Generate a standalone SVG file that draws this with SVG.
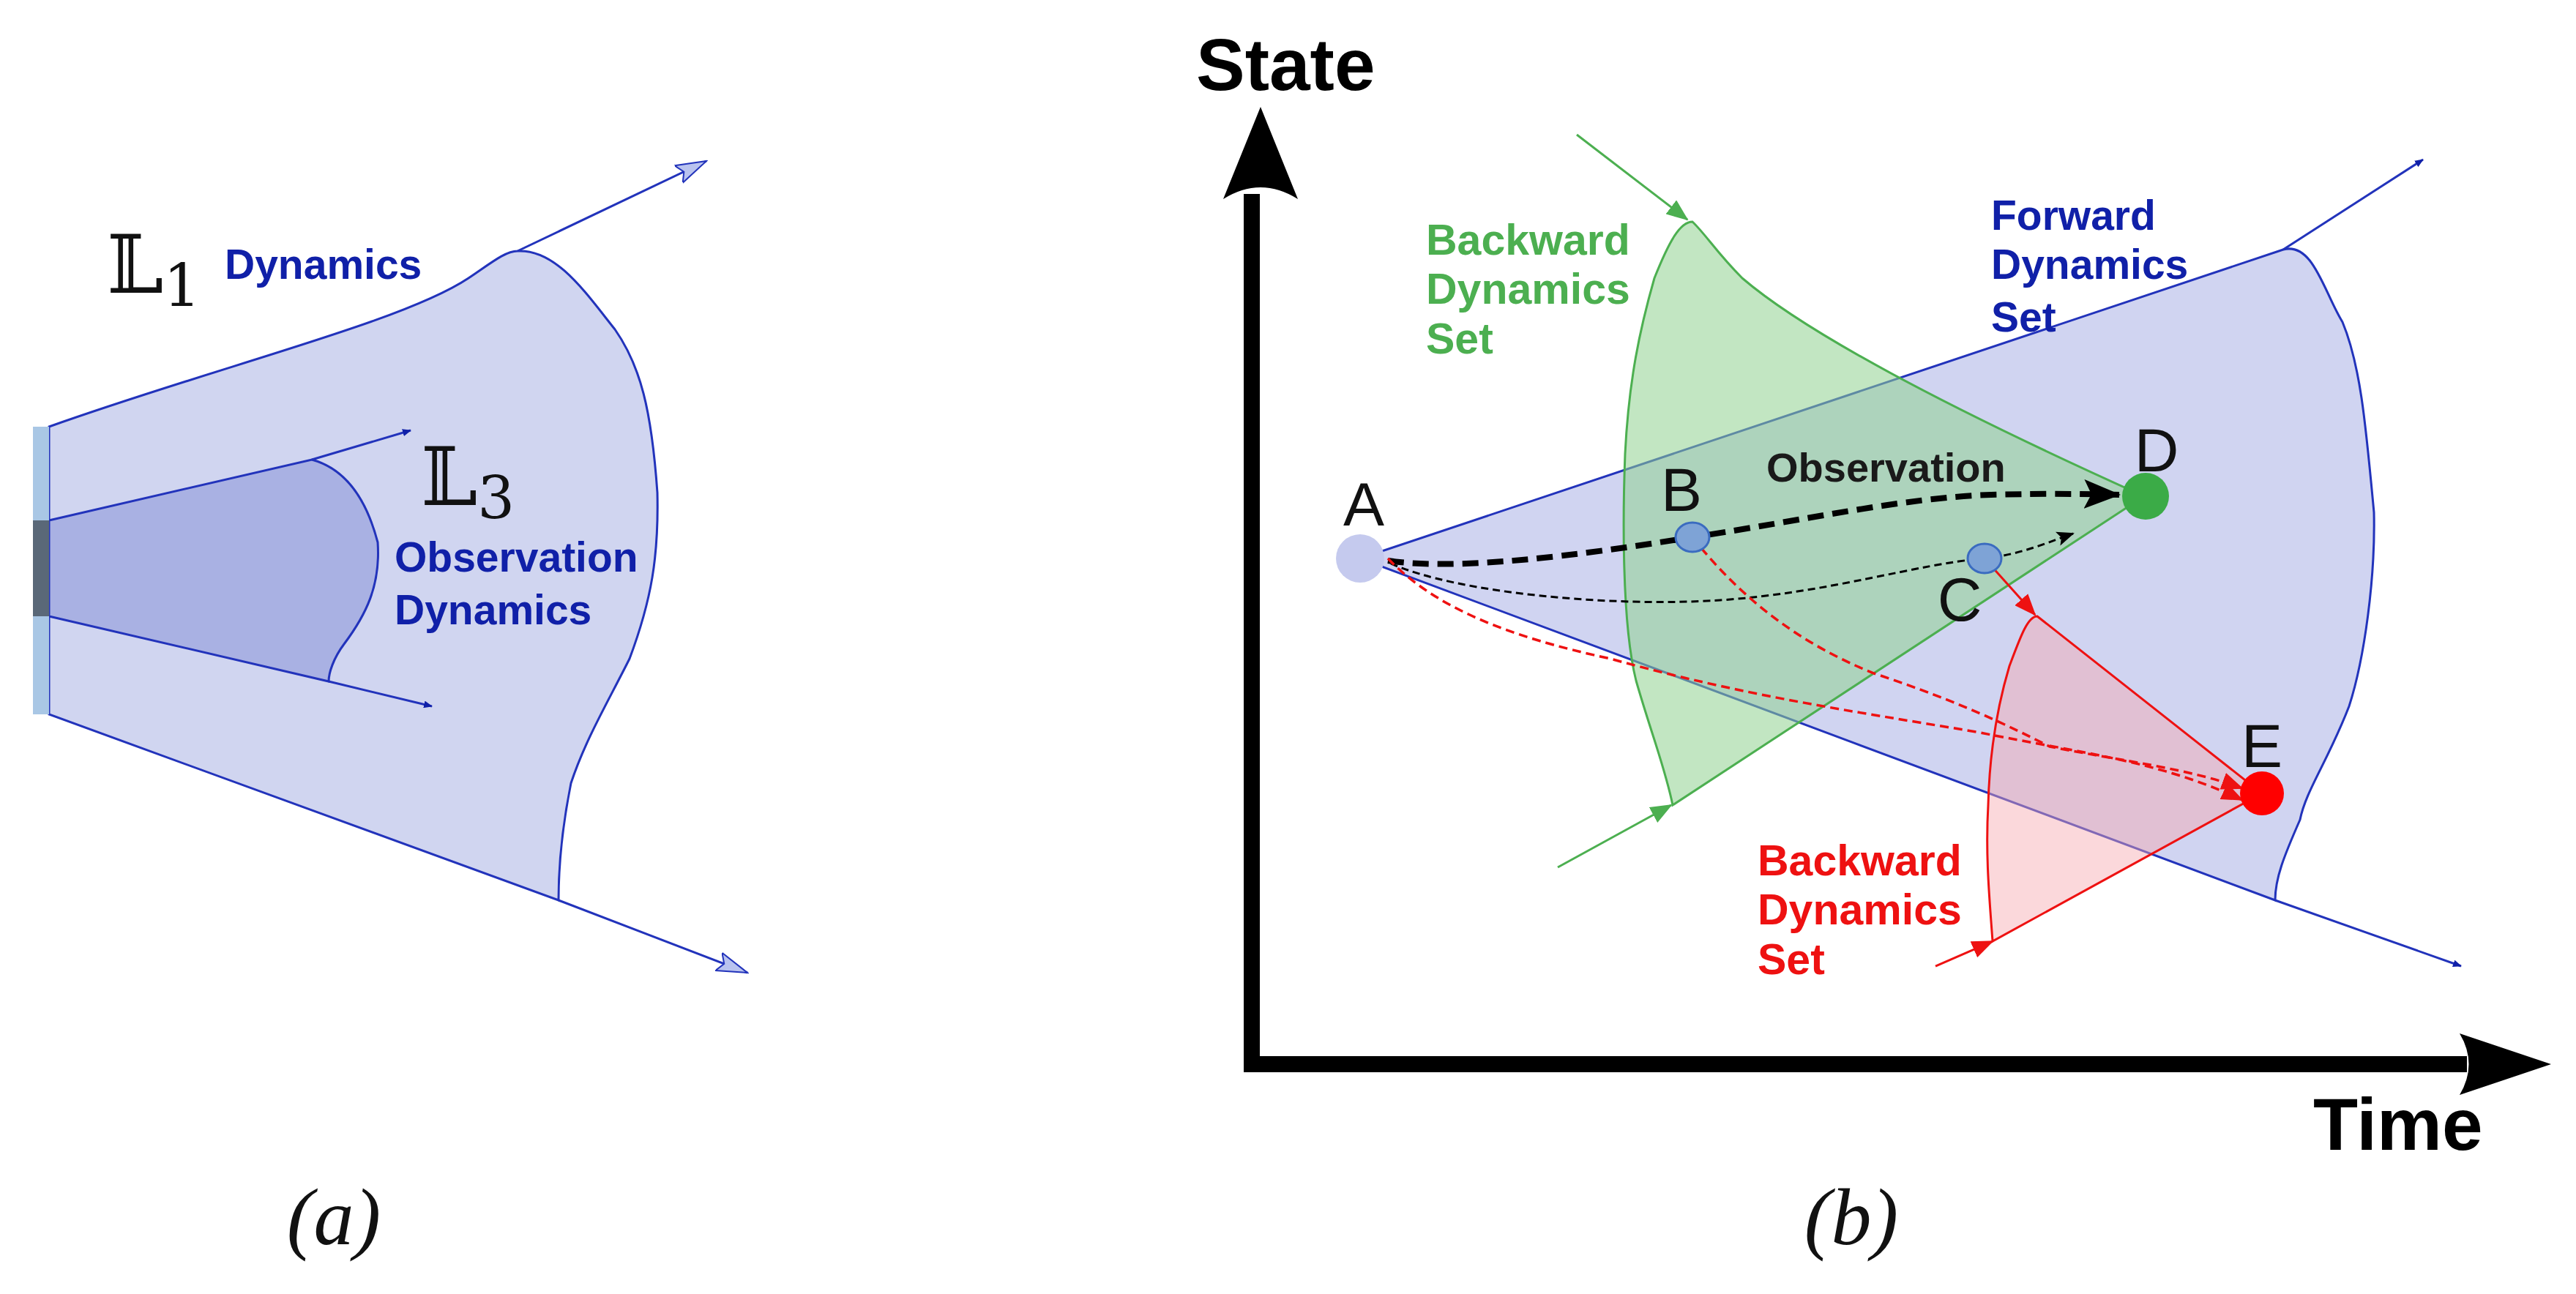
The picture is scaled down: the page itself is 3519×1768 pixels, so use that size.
<svg xmlns="http://www.w3.org/2000/svg" width="3519" height="1768" viewBox="0 0 3519 1768">
<style>
.bl{font-family:"Liberation Sans",Arial,sans-serif;font-weight:bold;font-size:57px;fill:#1020a8}
.gr{font-family:"Liberation Sans",Arial,sans-serif;font-weight:bold;font-size:59px;fill:#4caf50}
.rd{font-family:"Liberation Sans",Arial,sans-serif;font-weight:bold;font-size:59px;fill:#ee1111}
.lt{font-family:"Liberation Sans",Arial,sans-serif;font-size:84px;fill:#111}
.ax{font-family:"Liberation Sans",Arial,sans-serif;font-weight:bold;font-size:100px;fill:#000}
.mt{font-family:"DejaVu Serif","Liberation Serif",serif;font-size:110px;fill:#111}
.cap{font-family:"Liberation Serif",serif;font-style:italic;font-size:110px;fill:#111}
.bs{stroke:#2233bb;stroke-width:3;fill:none}
</style>
<defs>
<marker id="ab" markerWidth="12" markerHeight="10" refX="11" refY="5" orient="auto" markerUnits="userSpaceOnUse" viewBox="0 0 12 10"><path d="M0,0 L12,5 L0,10 Z" fill="#1020a8"/></marker>
<marker id="abl" markerWidth="44" markerHeight="30" refX="42" refY="15" orient="auto" markerUnits="userSpaceOnUse"><path d="M0,2 L42,15 L0,28 L8,15 Z" fill="#b9c3ef" stroke="#2233bb" stroke-width="2"/></marker>
<marker id="ag" markerWidth="30" markerHeight="24" refX="28" refY="12" orient="auto" markerUnits="userSpaceOnUse"><path d="M0,0 L30,12 L0,24 Z" fill="#4caf50"/></marker>
<marker id="ar" markerWidth="30" markerHeight="24" refX="28" refY="12" orient="auto" markerUnits="userSpaceOnUse"><path d="M0,0 L30,12 L0,24 Z" fill="#ee1111"/></marker>
<marker id="abk" markerWidth="50" markerHeight="40" refX="48" refY="20" orient="auto" markerUnits="userSpaceOnUse"><path d="M0,0 L50,20 L0,40 L10,20 Z" fill="#000"/></marker>
<marker id="abks" markerWidth="24" markerHeight="20" refX="22" refY="10" orient="auto" markerUnits="userSpaceOnUse"><path d="M0,0 L24,10 L0,20 L5,10 Z" fill="#000"/></marker>
</defs>

<g id="panel-a">
<path d="M67,583 C300,500 550,440 640,380 C670,360 690,343 707,343 C760,340 800,400 840,450 C875,500 890,560 898,673 C900,760 890,820 860,900 C830,960 800,1010 780,1070 C770,1120 763,1180 763,1230 L67,976 Z" fill="#d0d5f0" stroke="#2233bb" stroke-width="3"/>
<path d="M67,711 L426,628 C470,640 500,680 516,741 C520,800 500,840 470,880 C455,900 449,920 449,931 L67,842 Z" fill="#a9b1e3" stroke="#2233bb" stroke-width="3"/>
<rect x="45" y="583" width="22" height="393" fill="#a9c7e5"/>
<rect x="45" y="711" width="22" height="131" fill="#5a6878"/>
<line x1="707" y1="343" x2="965" y2="220" class="bs" marker-end="url(#abl)"/>
<line x1="763" y1="1230" x2="1021" y2="1329" class="bs" marker-end="url(#abl)"/>
<line x1="426" y1="628" x2="561" y2="588" class="bs" marker-end="url(#ab)"/>
<line x1="449" y1="931" x2="590" y2="965" class="bs" marker-end="url(#ab)"/>
<text x="146" y="400" class="mt">𝕃<tspan font-size="80" dy="18">1</tspan></text>
<text x="307" y="381" class="bl">Dynamics</text>
<text x="575" y="690" class="mt">𝕃<tspan font-size="80" dy="18">3</tspan></text>
<text x="539" y="781" class="bl">Observation</text>
<text x="539" y="853" class="bl">Dynamics</text>
<text x="456" y="1700" class="cap" text-anchor="middle">(a)</text>
</g>

<g id="axes">
<line x1="1710" y1="1454" x2="1710" y2="265" stroke="#000" stroke-width="22"/>
<path d="M1722,146 L1773,272 Q1722,240 1671,272 Z" fill="#000"/>
<line x1="1699" y1="1454" x2="3370" y2="1454" stroke="#000" stroke-width="22"/>
<path d="M3485,1454 L3360,1412 Q3385,1454 3360,1496 Z" fill="#000"/>
<text x="1634" y="123" class="ax">State</text>
<text x="3160" y="1571" class="ax">Time</text>
</g>

<g id="forward-set">
<path d="M1858,763 L3119,341 C3160,330 3175,400 3200,440 C3225,500 3232,583 3243,700 C3245,790 3230,900 3209,965 C3180,1040 3150,1080 3142,1120 C3120,1170 3108,1200 3108,1230 Z" fill="#cdd2f0" fill-opacity="0.95" stroke="#2233bb" stroke-width="3"/>
<line x1="3119" y1="341" x2="3310" y2="218" class="bs" marker-end="url(#ab)"/>
<line x1="3108" y1="1230" x2="3362" y2="1320" class="bs" marker-end="url(#ab)"/>
<text x="2720" y="314" class="bl">Forward</text>
<text x="2720" y="381" class="bl">Dynamics</text>
<text x="2720" y="453" class="bl">Set</text>
</g>

<g id="backward-green">
<path d="M2312,303 C2330,320 2345,345 2380,380 C2450,440 2600,530 2929,678 L2285,1100 C2275,1050 2255,1000 2235,930 C2215,850 2217,700 2220,620 C2225,520 2240,450 2260,380 C2280,330 2295,303 2312,303 Z" fill="#8fd18f" fill-opacity="0.55" stroke="#4caf50" stroke-width="3"/>
<line x1="2154" y1="184" x2="2305" y2="300" stroke="#4caf50" stroke-width="3" marker-end="url(#ag)"/>
<line x1="2128" y1="1185" x2="2283" y2="1100" stroke="#4caf50" stroke-width="3" marker-end="url(#ag)"/>
<text x="1948" y="348" class="gr">Backward</text>
<text x="1948" y="415" class="gr">Dynamics</text>
<text x="1948" y="483" class="gr">Set</text>
</g>

<g id="backward-red">
<path d="M2783,842 L3090,1084 L2722,1286 C2718,1230 2712,1170 2716,1100 C2718,1020 2730,960 2745,910 C2760,870 2770,842 2783,842 Z" fill="#f7a8b0" fill-opacity="0.45" stroke="#ee1111" stroke-width="3"/>
<line x1="2644" y1="1320" x2="2722" y2="1286" stroke="#ee1111" stroke-width="3" marker-end="url(#ar)"/>
<text x="2401" y="1196" class="rd">Backward</text>
<text x="2401" y="1263" class="rd">Dynamics</text>
<text x="2401" y="1331" class="rd">Set</text>
</g>

<g id="connectors">
<path d="M1896,766 C1990,780 2150,760 2312,734 C2470,710 2600,680 2720,676 C2800,674 2850,675 2895,676" fill="none" stroke="#000" stroke-width="8" stroke-dasharray="22,12" marker-end="url(#abk)"/>
<path d="M1900,770 C1990,810 2200,830 2350,820 C2500,810 2620,770 2711,763 C2760,758 2800,740 2832,729" fill="none" stroke="#000" stroke-width="3" stroke-dasharray="10,6" marker-end="url(#abks)"/>
<path d="M2312,734 C2380,820 2460,880 2560,920 C2680,960 2740,990 2800,1020 C2900,1040 2990,1050 3063,1077" fill="none" stroke="#ee1111" stroke-width="3.5" stroke-dasharray="12,7" marker-end="url(#ar)"/>
<path d="M1896,763 C1960,830 2060,870 2200,900 C2380,950 2520,970 2700,1000 C2850,1030 2950,1040 3063,1093" fill="none" stroke="#ee1111" stroke-width="3.5" stroke-dasharray="12,7" marker-end="url(#ar)"/>
<line x1="2711" y1="763" x2="2780" y2="840" stroke="#ee1111" stroke-width="3" marker-end="url(#ar)"/>
<text x="2413" y="658" font-family="Liberation Sans,Arial,sans-serif" font-weight="bold" font-size="56" fill="#1a1a1a">Observation</text>
</g>

<g id="node-A"><circle cx="1858" cy="763" r="33" fill="#c5caee"/><text x="1863" y="718" class="lt" text-anchor="middle">A</text></g>
<g id="node-B"><ellipse cx="2312" cy="734" rx="23" ry="20" fill="#7ea3d6" stroke="#3a6bc0" stroke-width="3"/><text x="2297" y="698" class="lt" text-anchor="middle">B</text></g>
<g id="node-C"><ellipse cx="2711" cy="763" rx="23" ry="20" fill="#7ea3d6" stroke="#3a6bc0" stroke-width="3"/><text x="2677" y="848" class="lt" text-anchor="middle">C</text></g>
<g id="node-D"><circle cx="2931" cy="678" r="32" fill="#3bab47"/><text x="2946" y="644" class="lt" text-anchor="middle">D</text></g>
<g id="node-E"><circle cx="3090" cy="1084" r="30" fill="#ff0000"/><text x="3090" y="1048" class="lt" text-anchor="middle">E</text></g>
<text x="2529" y="1700" class="cap" text-anchor="middle">(b)</text>
</svg>
